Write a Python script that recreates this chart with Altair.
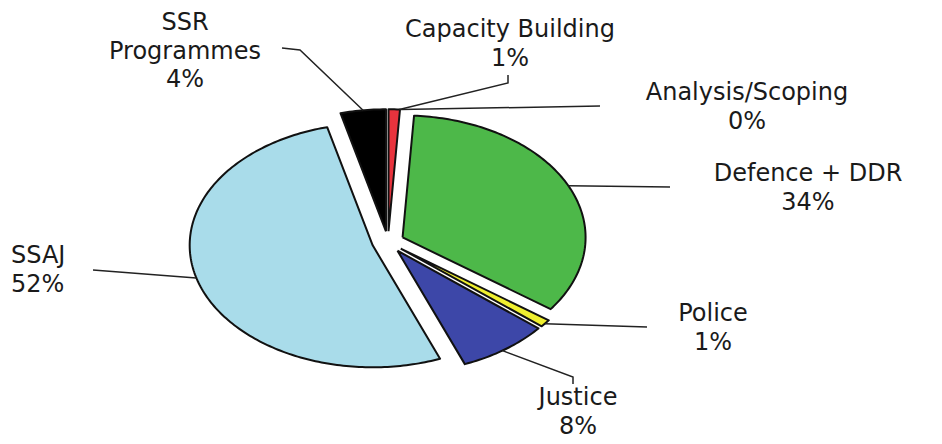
import math
import pandas as pd
import altair as alt

# ---------------- data ----------------
names = ["Capacity Building", "Analysis/Scoping", "Defence + DDR", "Police",
         "Justice", "SSAJ", "SSR Programmes"]
shares = [1, 0, 34, 1, 8, 52, 4]
colors = ["#E8333D", "#9999FF", "#4DB849", "#F0F030", "#3D47A8", "#A9DCEA", "#000000"]
label_names = {"SSR Programmes": "SSR\nProgrammes"}

# ---------------- layout (page pixels) ----------------
CX, CY = 388, 242          # pie centre
RX, RY = 183, 122          # elliptical radii (squashed pie)
EXPLODE = 0.088            # explode distance as fraction of radius
FONT = "DejaVu Sans"
FS = 24
LH = 28.5

# label anchor: x, first-line baseline y, align
label_pos = {
    "Capacity Building": (510, 37, "center"),
    "Analysis/Scoping": (747, 100, "center"),
    "Defence + DDR": (808, 181, "center"),
    "Police": (713, 321, "center"),
    "Justice": (578, 405, "center"),
    "SSAJ": (11, 263, "left"),
    "SSR Programmes": (185, 30, "center"),
}
# leader lines: angle on the slice edge (deg clockwise from 12 o'clock) + bend points
leaders = {
    "SSR Programmes": (352.8, [(300, 50), (282, 48)]),
    "Capacity Building": (3.4, [(508, 83), (508, 75)]),
    "Analysis/Scoping": (3.6, [(600, 106)]),
    "Defence + DDR": (65, [(670, 187)]),
    "Police": (128, [(647, 327)]),
    "Justice": (145, [(573, 377), (573, 384)]),
    "SSAJ": (254.5, [(93, 270)]),
}

# ---------------- geometry from the shares ----------------
total = float(sum(shares))
slice_rows, offsets = [], {}
start = 0.0
for name, v in zip(names, shares):
    a0 = start
    a1 = start + v / total * 360.0
    start = a1
    mid = math.radians((a0 + a1) / 2)
    ox = EXPLODE * RX * math.sin(mid)
    oy = -EXPLODE * RY * math.cos(mid)
    offsets[name] = (ox, oy)
    if v <= 0:
        continue
    apex = (CX + ox, CY + oy)
    pts = [apex]
    n = max(2, int(math.ceil(a1 - a0)) + 1)
    for k in range(n):
        t = math.radians(a0 + (a1 - a0) * k / (n - 1))
        pts.append((CX + ox + RX * math.sin(t), CY + oy - RY * math.cos(t)))
    pts.append(apex)
    for i, (x, y) in enumerate(pts):
        slice_rows.append({"name": name, "idx": i, "x": x, "y": y})
slices_df = pd.DataFrame(slice_rows)

lead_rows = []
for name, (ang, bends) in leaders.items():
    ox, oy = offsets[name]
    t = math.radians(ang)
    pts = [(CX + ox + RX * math.sin(t), CY + oy - RY * math.cos(t))] + bends
    for i, (x, y) in enumerate(pts):
        lead_rows.append({"name": name, "idx": i, "x": x, "y": y})
lead_df = pd.DataFrame(lead_rows)

lab_rows = []
for name, v in zip(names, shares):
    x, y, al = label_pos[name]
    lab_rows.append({"name": name, "text": f"{label_names.get(name, name)}\n{v}%",
                     "x": x, "y": y, "align": al})
lab_df = pd.DataFrame(lab_rows)

# ---------------- chart ----------------
W, H = 926, 428
xs = alt.Scale(domain=[8, 8 + W], nice=False, zero=False)
ys = alt.Scale(domain=[8, 8 + H], nice=False, zero=False, reverse=True)
X = alt.X("x:Q", scale=xs, axis=None)
Y = alt.Y("y:Q", scale=ys, axis=None)

pie = alt.Chart(slices_df).mark_line(
    stroke="#111111", strokeWidth=2, strokeJoin="round"
).encode(
    x=X, y=Y,
    fill=alt.Fill("name:N", scale=alt.Scale(domain=names, range=colors), legend=None),
    detail="name:N",
    order=alt.Order("idx:Q"),
)

lead = alt.Chart(lead_df).mark_line(stroke="#222222", strokeWidth=1.5).encode(
    x=X, y=Y, detail="name:N", order=alt.Order("idx:Q")
)

text_c = alt.Chart(lab_df).transform_filter(alt.datum.align == "center").mark_text(
    font=FONT, fontSize=FS, lineBreak="\n", lineHeight=LH, align="center",
    baseline="alphabetic", color="#1a1a1a"
).encode(x=X, y=Y, text="text:N")

text_l = alt.Chart(lab_df).transform_filter(alt.datum.align == "left").mark_text(
    font=FONT, fontSize=FS, lineBreak="\n", lineHeight=LH, align="left",
    baseline="alphabetic", color="#1a1a1a"
).encode(x=X, y=Y, text="text:N")

chart = alt.layer(pie, lead, text_c, text_l).properties(
    width=W, height=H, padding=0, background="white"
).configure_view(stroke=None)

chart.save("out.html", embed_options={"renderer": "svg", "actions": False})
